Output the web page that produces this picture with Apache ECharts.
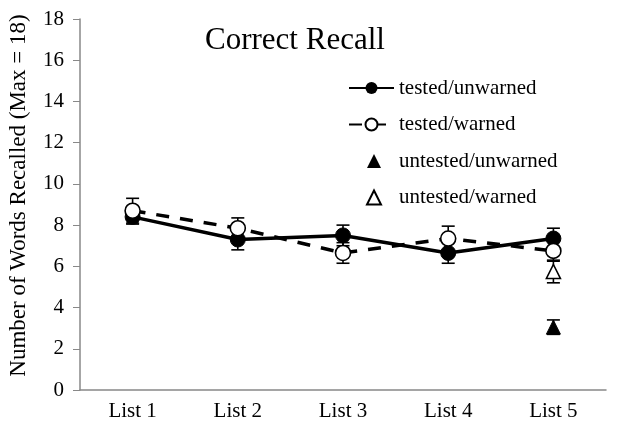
<!DOCTYPE html>
<html>
<head>
<meta charset="utf-8">
<script src="https://cdn.jsdelivr.net/npm/echarts@6/dist/echarts.min.js"></script>
<style>
html, body { margin: 0; padding: 0; background: #fff; }
#main { width: 634px; height: 426px; }
</style>
</head>
<body>
<div id="main"></div>
<script>
var categories = ['List 1', 'List 2', 'List 3', 'List 4', 'List 5'];
var testedUnwarned = [8.4, 7.3, 7.5, 6.65, 7.35];
var testedUnwarnedErr = [0.35, 0.5, 0.5, 0.5, 0.5];
var testedWarned = [8.7, 7.85, 6.65, 7.35, 6.75];
var testedWarnedErr = [0.6, 0.5, 0.5, 0.6, 0.5];
var untestedUnwarned = [null, null, null, null, 3.05];
var untestedUnwarnedErr = [null, null, null, null, 0.35];
var untestedWarned = [null, null, null, null, 5.75];
var untestedWarnedErr = [null, null, null, null, 0.55];
var yTicks = [0, 2, 4, 6, 8, 10, 12, 14, 16, 18];

var serif = 'Liberation Serif, Times New Roman, serif';

function errData(vals, errs) {
    var out = [];
    for (var i = 0; i < vals.length; i++) {
        if (vals[i] != null) out.push([i, vals[i] - errs[i], vals[i] + errs[i]]);
    }
    return out;
}

function errSeries(vals, errs) {
    return {
        type: 'custom',
        silent: true,
        z: 1,
        data: errData(vals, errs),
        renderItem: function (params, api) {
            var lo = api.coord([api.value(0), api.value(1)]);
            var hi = api.coord([api.value(0), api.value(2)]);
            var w = 6.5;
            var st = { stroke: '#000', lineWidth: 1.6 };
            return {
                type: 'group',
                children: [
                    { type: 'line', shape: { x1: hi[0], y1: hi[1], x2: lo[0], y2: lo[1] }, style: st },
                    { type: 'line', shape: { x1: hi[0] - w, y1: hi[1], x2: hi[0] + w, y2: hi[1] }, style: st },
                    { type: 'line', shape: { x1: lo[0] - w, y1: lo[1], x2: lo[0] + w, y2: lo[1] }, style: st }
                ]
            };
        }
    };
}

var legendText = { fontFamily: serif, fontSize: 21, color: '#000', lineHeight: 22 };

var myChart = echarts.init(document.getElementById('main'));
var option = {
    animation: false,
    title: {
        text: 'Correct Recall',
        left: 200,
        top: 20,
        textStyle: { fontFamily: serif, fontSize: 31, fontWeight: 'normal', color: '#000' }
    },
    legend: [{
        orient: 'vertical',
        left: 343,
        top: 72,
        itemGap: 14.5,
        itemWidth: 45,
        itemHeight: 15,
        textStyle: legendText,
        data: ['tested/unwarned', 'tested/warned']
    }, {
        orient: 'vertical',
        left: 361,
        top: 145,
        itemGap: 14.5,
        itemWidth: 14,
        itemHeight: 14,
        textStyle: Object.assign({ padding: [0, 0, 0, 13] }, legendText),
        data: ['untested/unwarned', 'untested/warned']
    }],
    grid: { left: 80, right: 28, top: 19, bottom: 36, outerBoundsMode: 'none', containLabel: false },
    xAxis: {
        type: 'category',
        data: categories,
        axisLine: { lineStyle: { color: '#888', width: 1.5 } },
        axisTick: { length: 5, lineStyle: { color: '#888' } },
        axisLabel: { fontFamily: serif, fontSize: 21, color: '#000', margin: 11 }
    },
    yAxis: {
        type: 'value',
        min: 0,
        max: 18,
        interval: 2,
        name: 'Number of Words Recalled (Max = 18)',
        nameLocation: 'middle',
        nameRotate: 90,
        nameGap: 50,
        nameTextStyle: { fontFamily: serif, fontSize: 23, color: '#000', padding: [0, 0, 0, 18] },
        axisLine: { show: true, lineStyle: { color: '#888', width: 1.5 } },
        axisTick: { show: true, length: 7, lineStyle: { color: '#888' } },
        splitLine: { show: false },
        axisLabel: {
            fontFamily: serif, fontSize: 21, color: '#000', margin: 16,
            formatter: function (v) { return yTicks.indexOf(v) >= 0 ? String(v) : ''; }
        }
    },
    series: [
        errSeries(testedUnwarned, testedUnwarnedErr),
        errSeries(testedWarned, testedWarnedErr),
        errSeries(untestedUnwarned, untestedUnwarnedErr),
        errSeries(untestedWarned, untestedWarnedErr),
        {
            name: 'tested/unwarned',
            type: 'line',
            z: 3,
            data: testedUnwarned,
            symbol: 'circle',
            symbolSize: 15,
            lineStyle: { color: '#000', width: 3.5 },
            itemStyle: { color: '#000', borderColor: '#000' }
        },
        {
            name: 'tested/warned',
            type: 'line',
            z: 4,
            data: testedWarned,
            symbol: 'circle',
            symbolSize: 15,
            lineStyle: { color: '#000', width: 3.5, type: [13, 11] },
            itemStyle: { color: '#fff', borderColor: '#000', borderWidth: 1.6 }
        },
        {
            name: 'untested/unwarned',
            type: 'scatter',
            z: 4,
            data: untestedUnwarned,
            symbol: 'triangle',
            symbolSize: 14,
            itemStyle: { color: '#000', borderColor: '#000', opacity: 1 }
        },
        {
            name: 'untested/warned',
            type: 'scatter',
            z: 4,
            data: untestedWarned,
            symbol: 'triangle',
            symbolSize: 14,
            itemStyle: { color: '#fff', borderColor: '#000', borderWidth: 1.6, opacity: 1 }
        }
    ]
};
myChart.setOption(option);
</script>
</body>
</html>
